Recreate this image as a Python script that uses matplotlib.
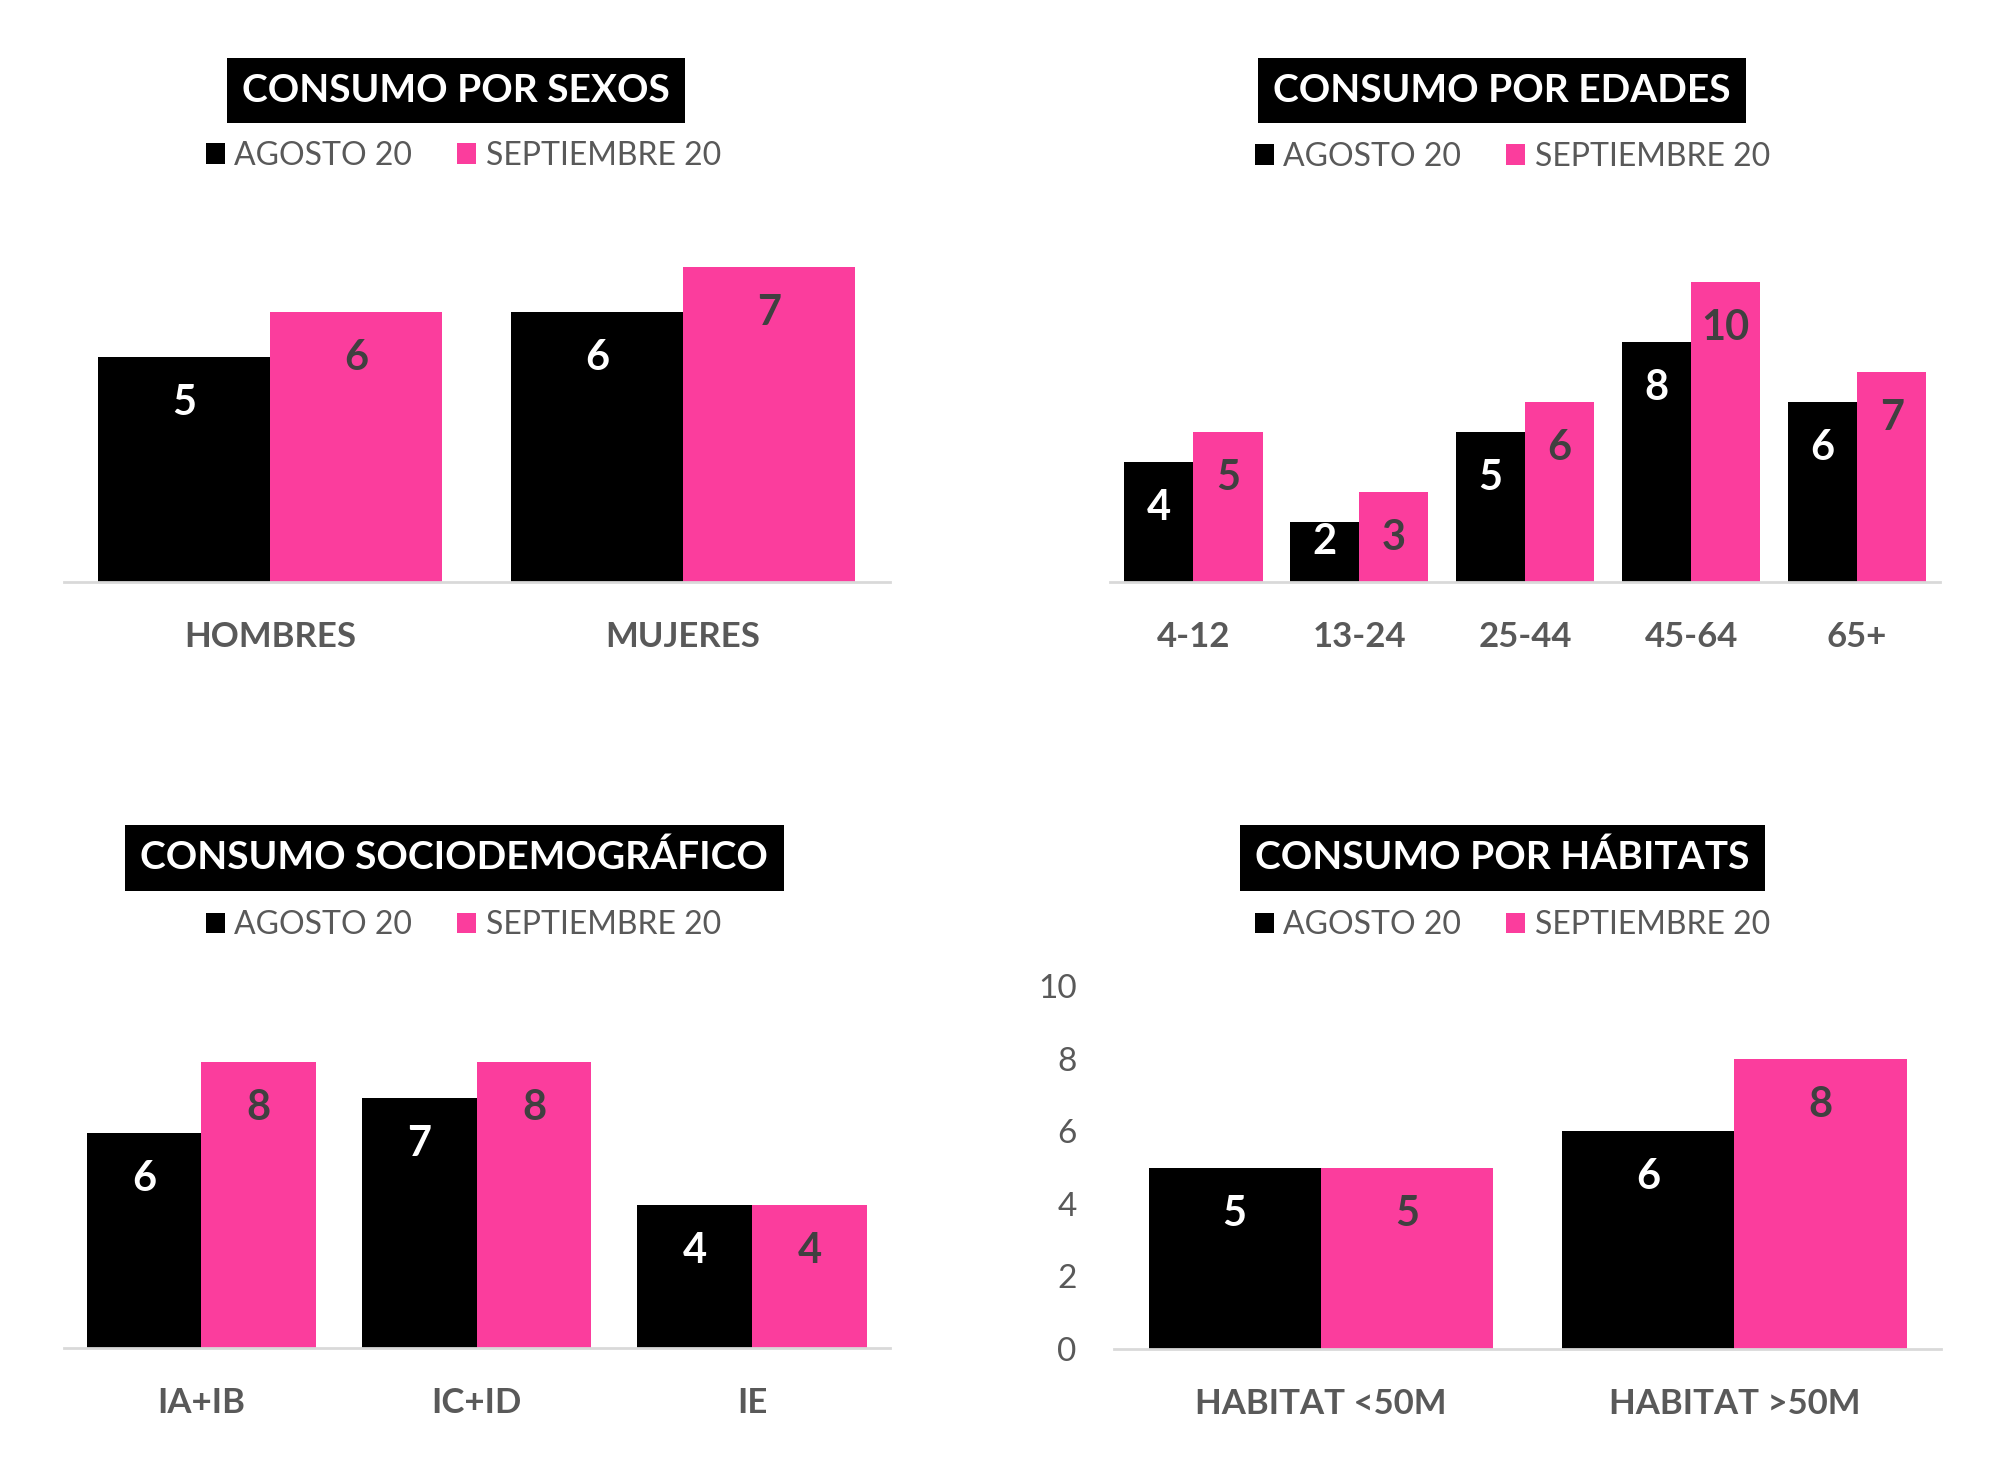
import matplotlib
matplotlib.use("Agg")
import matplotlib.pyplot as plt
import numpy as np
from matplotlib.patches import Patch

plt.rcParams["font.family"] = ["Lato", "DejaVu Sans"]

BLACK = "#000000"
PINK = "#FB3D9D"
GRAY = "#595959"
LABEL_DARK = "#404040"

FIG_W, FIG_H, DPI = 20, 14.59, 100

series_names = ["AGOSTO 20", "SEPTIEMBRE 20"]

sexos_cats = ["HOMBRES", "MUJERES"]
sexos_ago = [5, 6]
sexos_sep = [6, 7]

edades_cats = ["4-12", "13-24", "25-44", "45-64", "65+"]
edades_ago = [4, 2, 5, 8, 6]
edades_sep = [5, 3, 6, 10, 7]

socio_cats = ["IA+IB", "IC+ID", "IE"]
socio_ago = [6, 7, 4]
socio_sep = [8, 8, 4]

habitat_cats = ["HABITAT <50M", "HABITAT >50M"]
habitat_ago = [5, 6]
habitat_sep = [5, 8]


def bar_panel(fig, rect, cats, ago, sep, ymax, show_y=False):
    ax = fig.add_axes(rect)
    x = np.arange(len(cats))
    w = 0.417
    b1 = ax.bar(x - w / 2, ago, w, color=BLACK)
    b2 = ax.bar(x + w / 2, sep, w, color=PINK)
    # points per data unit, to keep labels inside short bars
    pts_per_unit = rect[3] * FIG_H * 72 / ymax
    for bars, vals, col in ((b1, ago, "white"), (b2, sep, LABEL_DARK)):
        for rect_, v in zip(bars, vals):
            off = min(33, max(v * pts_per_unit - 29, 14))
            ax.annotate(str(v), (rect_.get_x() + rect_.get_width() / 2, v),
                        xytext=(0, -off), textcoords="offset points",
                        ha="center", va="center", fontsize=30,
                        fontweight="bold", color=col)
    ax.set_xlim(-0.5, len(cats) - 0.5)
    ax.set_ylim(0, ymax)
    ax.set_xticks(x)
    ax.set_xticklabels(cats, fontsize=25, fontweight="bold", color=GRAY)
    ax.tick_params(axis="x", length=0, pad=28)
    for s in ("top", "right", "left"):
        ax.spines[s].set_visible(False)
    ax.spines["bottom"].set_color("#D9D9D9")
    ax.spines["bottom"].set_linewidth(2)
    if show_y:
        ax.set_yticks(np.arange(0, ymax + 1, 2))
        ax.tick_params(axis="y", length=0, pad=27, labelsize=24, labelcolor=GRAY)
    else:
        ax.set_yticks([])
    return ax


def header(fig, x, y_title, x_leg, y_leg, title):
    fig.text(x, y_title, title, ha="center", va="center", fontsize=28,
             fontweight="bold", color="white",
             bbox=dict(facecolor="black", edgecolor="none", pad=11))
    handles = [Patch(facecolor=BLACK), Patch(facecolor=PINK)]
    fig.legend(handles, series_names, loc="center", bbox_to_anchor=(x_leg, y_leg),
               ncol=2, frameon=False, fontsize=23, labelcolor=GRAY,
               handlelength=0.6, handleheight=0.6, handletextpad=0.3,
               columnspacing=1.4)


fig = plt.figure(figsize=(FIG_W, FIG_H), dpi=DPI)

bar_panel(fig, [0.0319, 0.6010, 0.4129, 0.2467], sexos_cats, sexos_ago, sexos_sep, 8)
header(fig, 0.2278, 0.9379, 0.2317, 0.8933, "CONSUMO POR SEXOS")

bar_panel(fig, [0.5552, 0.6010, 0.4148, 0.2467], edades_cats, edades_ago, edades_sep, 12)
header(fig, 0.7511, 0.9379, 0.7562, 0.8925, "CONSUMO POR EDADES")

bar_panel(fig, [0.0319, 0.0761, 0.4129, 0.2450], socio_cats, socio_ago, socio_sep, 10)
header(fig, 0.2272, 0.4121, 0.2317, 0.3657, "CONSUMO SOCIODEMOGRÁFICO")

bar_panel(fig, [0.5571, 0.0754, 0.4134, 0.2485], habitat_cats, habitat_ago, habitat_sep, 10,
          show_y=True)
header(fig, 0.7511, 0.4121, 0.7562, 0.3657, "CONSUMO POR HÁBITATS")

fig.savefig("out.png", dpi=DPI, facecolor="white")
